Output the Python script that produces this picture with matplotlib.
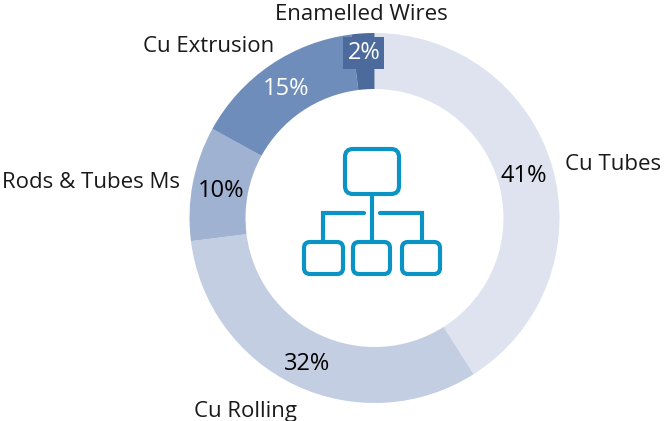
import matplotlib
matplotlib.use('Agg')
import matplotlib.pyplot as plt
from matplotlib.patches import FancyBboxPatch, Rectangle

plt.rcParams['font.family'] = ['Open Sans', 'DejaVu Sans']

# clockwise from the top
segments = ['Cu Tubes', 'Cu Rolling', 'Rods & Tubes Ms', 'Cu Extrusion', 'Enamelled Wires']
shares = [41, 32, 10, 15, 2]
pct_labels = ['41%', '32%', '10%', '15%', '2%']
colors = ['#DEE3EF', '#C3CEE2', '#A0B2D2', '#6F8DBB', '#4C6B9C']

W, H = 664, 421
fig = plt.figure(figsize=(W / 100, H / 100), dpi=100)

cx, cy, r_out = 374.5, 218, 185
ax_pie = fig.add_axes([(cx - r_out) / W, 1 - (cy + r_out) / H, 2 * r_out / W, 2 * r_out / H])
ax_pie.pie(shares, colors=colors, startangle=90, counterclock=False, radius=1,
           wedgeprops={'width': 56 / r_out, 'linewidth': 0})
ax_pie.set_xlim(-1, 1)
ax_pie.set_ylim(-1, 1)
ax_pie.axis('off')

# overlay in pixel coords for text and icon
ax_top = fig.add_axes([0, 0, 1, 1], facecolor='none')
ax_top.set_xlim(0, W)
ax_top.set_ylim(H, 0)
ax_top.axis('off')

name_pos = [(565, 164, 'left'), (246, 411, 'center'), (2, 182, 'left'), (143, 47, 'left'), (361, 15, 'center')]
for name, (x, y, ha) in zip(segments, name_pos):
    ax_top.text(x, y, name, fontsize=16, ha=ha, va='center', color='#1a1a1a')

# the 2% label sits on a box of its own colour
ax_top.add_patch(Rectangle((343, 37), 41, 32, fc=colors[4], ec='none'))

pct_pos = [(524, 176), (307, 364), (221, 191), (286, 89), (364, 53)]
pct_cols = ['black', 'black', 'black', 'white', 'white']
for i, (lab, (x, y)) in enumerate(zip(pct_labels, pct_pos)):
    ax_top.text(x, y, lab, fontsize=17, ha='center', va='center', color=pct_cols[i])

# org chart icon
blue = '#0A93C5'
lw_icon = 3.0
boxes = [(345, 149, 54, 45), (304, 242, 39, 32), (353, 242, 37, 32), (402, 242, 38, 32)]
for x, y, w, h in boxes:
    rad = 8 if w > 50 else 6
    ax_top.add_patch(FancyBboxPatch((x + rad, y + rad), w - 2 * rad, h - 2 * rad,
                                    boxstyle=f'round,pad={rad},rounding_size={rad}',
                                    fc='none', ec=blue, lw=lw_icon))
ax_top.plot([372, 372], [194, 242], color=blue, lw=lw_icon, solid_capstyle='butt')
ax_top.plot([364, 323, 323], [213, 213, 242], color=blue, lw=lw_icon, solid_capstyle='round', solid_joinstyle='miter')
ax_top.plot([380, 422, 422], [213, 213, 242], color=blue, lw=lw_icon, solid_capstyle='round', solid_joinstyle='miter')

fig.savefig('out.png', dpi=100)
